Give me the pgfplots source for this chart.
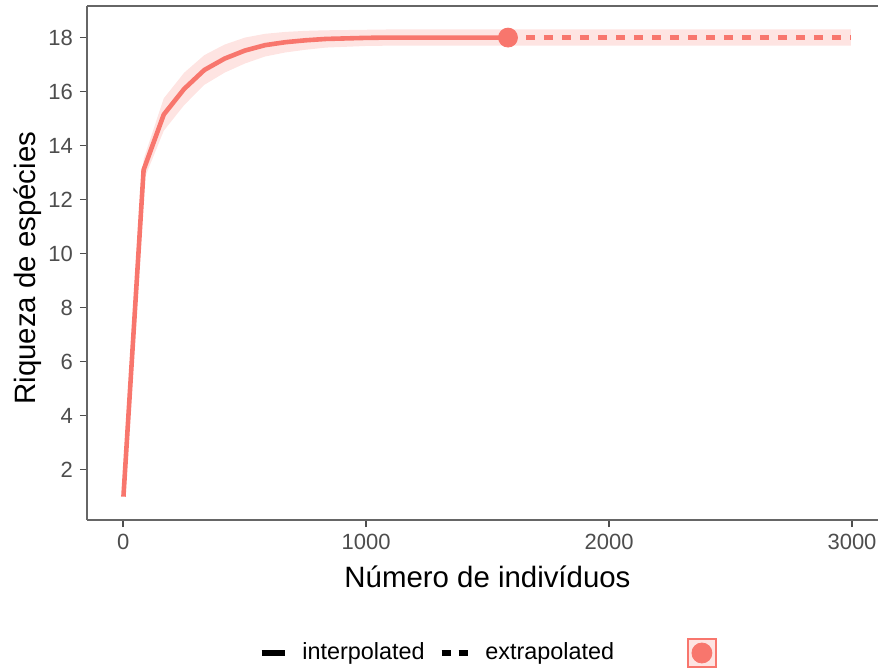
\documentclass[border=0pt]{standalone}
\usepackage{pgfplots}
\pgfplotsset{compat=1.18}
\usepackage{pgfplotstable}
\usepackage{fontspec}
\setmainfont{Liberation Sans}
\definecolor{ired}{HTML}{F8766D}
\definecolor{iband}{HTML}{FEE4E2}
\definecolor{tickgray}{HTML}{4D4D4D}
\definecolor{framegray}{HTML}{666666}

\pgfplotstableread{
m S
1 1
84 13.1
167 15.15
251 16.1
334 16.8
417 17.22
501 17.52
584 17.72
668 17.83
751 17.9
834 17.95
918 17.97
1001 17.99
1084 18.0
1167 18.0
1251 18.0
1334 18.0
1417 18.0
1501 18.0
1584 18.0
}\interp

\pgfplotstableread{
m S
1584 18
1700 18
1900 18
2100 18
2300 18
2500 18
2700 18
2900 18
2995 18
}\extrap

\pgfplotstableread{
m y
1 1
84 13.5
167 15.75
251 16.7
334 17.35
417 17.74
501 18.0
584 18.14
668 18.21
751 18.25
834 18.27
918 18.28
1001 18.29
1084 18.3
2995 18.3
2995 17.7
1084 17.7
1001 17.69
918 17.66
834 17.63
751 17.55
668 17.45
584 17.3
501 17.04
417 16.7
334 16.25
251 15.5
167 14.55
84 12.7
1 1
}\band

\begin{document}
\begin{tikzpicture}
\begin{axis}[
  scale only axis,
  width=395.5pt, height=257pt,
  xmin=-149, xmax=3107,
  ymin=0.135, ymax=19.17,
  separate axis lines,
  axis x line*=box, axis y line*=left,
  axis line style={draw=framegray, line width=0.7pt},
  xtick={0,1000,2000,3000},
  ytick={2,4,6,8,10,12,14,16,18},
  xtick pos=left, ytick pos=left,
  tick align=outside,
  major tick length=3.5pt,
  tick style={draw=tickgray, line width=0.7pt},
  /pgf/number format/assume math mode=true,
  /pgf/number format/1000 sep={},
  tick label style={font=\fontsize{11}{13}\selectfont, text=tickgray},
  xlabel={Número de indivíduos},
  ylabel={Riqueza de espécies},
  every axis y label/.style={at={(axis description cs:-0.0645,0.49)}, rotate=90, anchor=base, font=\fontsize{14.7}{17}\selectfont},
  every axis x label/.style={at={(axis description cs:0.5063,0)}, anchor=base, yshift=-33.5pt, font=\fontsize{14.7}{17}\selectfont},
  legend columns=3,
  legend style={draw=none, fill=none, inner sep=0pt, outer sep=0pt,
    at={(axis description cs:0.2175,0)}, anchor=west, yshift=-66.5pt,
    font=\fontsize{11.7}{14}\selectfont,
    /tikz/column 1/.style={column sep=5.6pt},
    /tikz/column 2/.style={column sep=5.1pt},
    /tikz/column 3/.style={column sep=5.6pt},
    /tikz/column 4/.style={column sep=34.6pt}},
]
\addlegendimage{legend image code/.code={\draw[black, line width=2.6pt] (0pt,0pt) -- (11.5pt,0pt);}}
\addlegendentry{interpolated}
\addlegendimage{legend image code/.code={\draw[black, line width=2.6pt, dash pattern=on 4.5pt off 4pt] (0pt,0pt) -- (13pt,0pt);}}
\addlegendentry{extrapolated}
\addlegendimage{legend image code/.code={\draw[ired, fill=iband, line width=0.6pt] (0pt,-7pt) rectangle (14pt,7pt); \fill[ired] (7pt,0pt) circle (5pt);}}
\addlegendentry{}

\addplot[fill=iband, draw=none, forget plot] table[x=m, y=y] {\band} -- cycle;
\addplot[ired, line width=2.3pt, line join=round, forget plot] table[x=m, y=S] {\interp};
\addplot[ired, line width=2.3pt, dash pattern=on 4.5pt off 4.5pt, forget plot] table[x=m, y=S] {\extrap};
\addplot[ired, only marks, mark=*, mark size=4.75pt, forget plot] coordinates {(1584,18)};
\end{axis}
\pgfresetboundingbox
\useasboundingbox (-43.5pt,-75pt) rectangle (395.5pt,260pt);
\end{tikzpicture}
\end{document}
